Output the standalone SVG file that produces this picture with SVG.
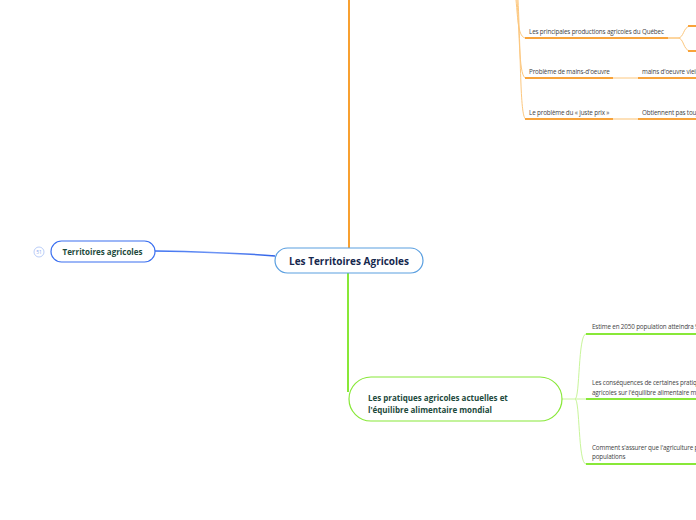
<svg xmlns="http://www.w3.org/2000/svg" width="696" height="520" viewBox="0 0 696 520">
<defs>
<style>
.t{font-family:"Open Sans","Noto Sans",sans-serif;font-size:6.3px;letter-spacing:-0.15px;fill:#444}
.b{font-family:"Open Sans","Noto Sans",sans-serif;font-weight:bold;fill:#1d4a3c}
.ol{stroke:#fcc77e;stroke-width:1;fill:none}
.ou{stroke:#f8a33a;stroke-width:2;fill:none}
.gl{stroke:#c8f59a;stroke-width:1;fill:none}
.gu{stroke:#88e838;stroke-width:2;fill:none}
</style>
<linearGradient id="bg" x1="0" x2="1" y1="0" y2="0">
<stop offset="0" stop-color="#3a6ff0"/><stop offset="0.5" stop-color="#6e95f5"/><stop offset="1" stop-color="#2f62e8"/>
</linearGradient>
</defs>
<rect width="696" height="520" fill="#fff"/>
<g id="connectors">
<path d="M349 0 V248" stroke="#f8a030" stroke-width="2" fill="none"/>
<path d="M348 273 V392" stroke="#88e838" stroke-width="2" fill="none"/>
<path d="M155 251 C215 252 240 253 275 256" stroke="url(#bg)" stroke-width="1.5" fill="none"/>
<path class="ol" d="M516 0 C518 20 518 38 526 38"/>
<path class="ol" d="M517 0 C520 40 519 78 526 78"/>
<path class="ol" d="M518 0 C521 60 520 119 526 119"/>
<path class="ou" d="M525 38 H668"/>
<path class="ou" d="M525 78 H613"/>
<path class="ou" d="M525 119 H613"/>
<path class="ol" d="M613 78 H638"/>
<path d="M613 119 H638" stroke="#fde0b8" stroke-width="2" fill="none"/>
<path class="ou" d="M638 78 H696"/>
<path class="ou" d="M638 119 H696"/>
<path class="ol" d="M668 38 H678 C684 38 683 27 690 26 H696"/>
<path class="ol" d="M668 38 H678 C684 38 683 50 690 51 H696"/>
<path class="ou" d="M688 26 H696"/>
<path class="ou" d="M688 51 H696"/>
<path class="gl" d="M562 399 H575 C580 399 578 334 586 334"/>
<path class="gl" d="M575 399 H586"/>
<path class="gl" d="M575 399 C580 399 578 464 586 464"/>
<path class="gu" d="M586 334 H696"/>
<path class="gu" d="M586 399 H696"/>
<path class="gu" d="M586 464 H696"/>
</g>
<g id="central">
<rect x="275" y="248" width="148" height="25" rx="12.5" fill="#fff" stroke="#5a9fe0" stroke-width="1.2"/>
<text class="b" x="349" y="264.5" font-size="10" text-anchor="middle" style="fill:#16284e">Les Territoires Agricoles</text>
</g>
<g id="territoires">
<rect x="51" y="241" width="104" height="21" rx="10.5" fill="#fff" stroke="#3a6ff0" stroke-width="1.2"/>
<text class="b" x="102.5" y="254.5" font-size="8" text-anchor="middle">Territoires agricoles</text>
<circle cx="39" cy="252" r="5" fill="#fff" stroke="#a8c0f5" stroke-width="0.8"/>
<text x="39" y="254" font-family="Open Sans, sans-serif" font-size="5" fill="#8aa8ee" text-anchor="middle">51</text>
</g>
<g id="pratiques">
<rect x="349" y="377" width="213" height="44" rx="22" fill="#fff" stroke="#88e838" stroke-width="1.2"/>
<text class="b" x="368" y="401" font-size="8">Les pratiques agricoles actuelles et</text>
<text class="b" x="368" y="412.5" font-size="8">l'équilibre alimentaire mondial</text>
</g>
<g id="productions"><text class="t" x="529" y="34">Les principales productions agricoles du Québec</text></g>
<g id="mains"><text class="t" x="529" y="74">Problème de mains-d'oeuvre</text></g>
<g id="prix"><text class="t" x="529" y="115">Le problème du « juste prix »</text></g>
<g id="vieil"><text class="t" x="642" y="74">mains d'oeuvre vieil</text></g>
<g id="obtiennent"><text class="t" x="642" y="115">Obtiennent pas touj</text></g>
<g id="estime"><text class="t" x="592" y="329">Estime en 2050 population atteindra 9</text></g>
<g id="consequences"><text class="t" x="592" y="385">Les conséquences de certaines pratiq</text><text class="t" x="592" y="395">agricoles sur l'équilibre alimentaire m</text></g>
<g id="comment"><text class="t" x="592" y="450">Comment s'assurer que l'agriculture p</text><text class="t" x="592" y="459">populations</text></g>
</svg>
